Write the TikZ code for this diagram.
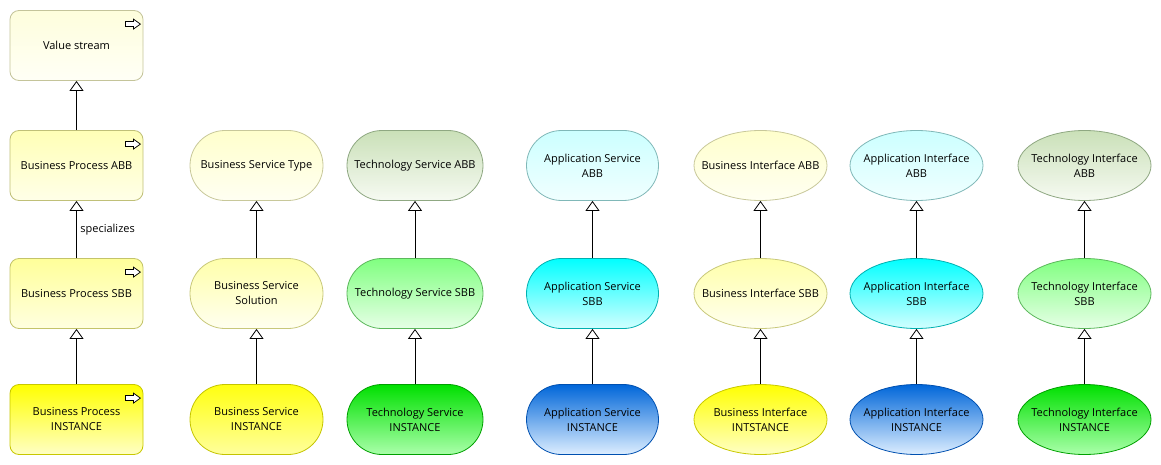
\documentclass[tikz,border=0pt]{standalone}
\usepackage{fontspec}
\setmainfont{Open Sans}
\usetikzlibrary{shapes.geometric,arrows.meta}
% colours
\definecolor{txtc}{HTML}{000000}
\definecolor{vsT}{HTML}{FEFEDC}\definecolor{vsB}{HTML}{FFFFF6}\definecolor{vsD}{HTML}{C4C49A}
\definecolor{y1T}{HTML}{FFFFB6}\definecolor{y1B}{HTML}{FFFFE8}\definecolor{y1D}{HTML}{C0C078}
\definecolor{y2T}{HTML}{FFFF99}\definecolor{y2B}{HTML}{FFFFE0}\definecolor{y2D}{HTML}{C4C46A}
\definecolor{y3T}{HTML}{FFFF00}\definecolor{y3B}{HTML}{FFFFC4}\definecolor{y3D}{HTML}{C8C800}
\definecolor{s1T}{HTML}{FFFFCC}\definecolor{s1B}{HTML}{FFFFF2}\definecolor{s1D}{HTML}{C8C89A}
\definecolor{s2T}{HTML}{FFFFAA}\definecolor{s2B}{HTML}{FFFFF0}\definecolor{s2D}{HTML}{C8C87A}
\definecolor{s3T}{HTML}{FFFF10}\definecolor{s3B}{HTML}{FFFF9C}\definecolor{s3D}{HTML}{C4C400}
\definecolor{g1T}{HTML}{CAE0B8}\definecolor{g1B}{HTML}{F6FAF2}\definecolor{g1D}{HTML}{8FA882}
\definecolor{g2T}{HTML}{80FF80}\definecolor{g2B}{HTML}{E6FFE6}\definecolor{g2D}{HTML}{5CB85C}
\definecolor{g3T}{HTML}{00E000}\definecolor{g3B}{HTML}{AAFFAA}\definecolor{g3D}{HTML}{00A000}
\definecolor{c1T}{HTML}{CCFFFF}\definecolor{c1B}{HTML}{F0FFFF}\definecolor{c1D}{HTML}{80B8B8}
\definecolor{c2T}{HTML}{00FFFF}\definecolor{c2B}{HTML}{D2FFFF}\definecolor{c2D}{HTML}{00B0B0}
\definecolor{c3T}{HTML}{0066D9}\definecolor{c3B}{HTML}{DDEEFF}\definecolor{c3D}{HTML}{0050B0}
\begin{document}
\begin{tikzpicture}[x=1pt,y=-1pt,
  every node/.style={font=\fontsize{11}{15}\selectfont, text=txtc},
  base/.style={draw, line width=0.8pt, minimum height=70pt, align=center, inner sep=0pt},
  proc/.style={base, rounded corners=9pt, minimum width=133pt},
  svc/.style={base, rounded corners=35pt, minimum width=133pt},
  ifc/.style={base, ellipse, minimum width=133pt},
  col/.style={top color=#1T, bottom color=#1B, draw=#1D},
  gen/.style={line width=0.8pt, -{Triangle[open, width=14pt, length=10pt, fill=white]}},
  icon/.style={line width=0.75pt, draw=black, fill=white, line join=miter},
  lbl/.style={align=center, inner sep=0pt}
]
\useasboundingbox (0,0) rectangle (1161,465);
\fill[white] (0,0) rectangle (1161,465);

% column 1: processes
\node[proc, col=vs] (vs) at (76.5,45.5) {Value stream};
\node[proc, col=y1] (bpabb) at (76.5,165.5) {Business Process ABB};
\node[proc, col=y2] (bpsbb) at (76.5,293.5) {Business Process SBB};
\node[proc, col=y3] (bpi) at (76.5,419.5) {Business Process\\INSTANCE};

% column 2: business services
\node[svc, col=s1] (bst) at (256.5,165.5) {Business Service Type};
\node[svc, col=s2] (bss) at (256.5,293.5) {Business Service\\Solution};
\node[svc, col=s3] (bsi) at (256.5,419.5) {Business Service\\INSTANCE};

% column 3: technology services
\node[svc, col=g1, minimum width=136pt] (tsa) at (415,165.5) {Technology Service ABB};
\node[svc, col=g2, minimum width=136pt] (tss) at (415,293.5) {Technology Service SBB};
\node[svc, col=g3, minimum width=136pt] (tsi) at (415,419.5) {Technology Service\\INSTANCE};

% column 4: application services
\node[svc, col=c1, minimum width=132pt] (asa) at (592.5,165.5) {Application Service\\ABB};
\node[svc, col=c2, minimum width=132pt] (ass) at (592.5,293.5) {Application Service\\SBB};
\node[svc, col=c3, minimum width=132pt] (asi) at (592.5,419.5) {Application Service\\INSTANCE};

% column 5: business interfaces
\node[ifc, col=s1, label={[lbl]center:Business Interface ABB}] (bia) at (760.5,165.5) {};
\node[ifc, col=s2, label={[lbl]center:Business Interface SBB}] (bis) at (760.5,293.5) {};
\node[ifc, col=y3, label={[lbl]center:Business Interface\\INTSTANCE}] (bii) at (760.5,419.5) {};

% column 6: application interfaces
\node[ifc, col=c1, label={[lbl]center:Application Interface\\ABB}] (aia) at (916.5,165.5) {};
\node[ifc, col=c2, label={[lbl]center:Application Interface\\SBB}] (ais) at (916.5,293.5) {};
\node[ifc, col=c3, label={[lbl]center:Application Interface\\INSTANCE}] (aii) at (916.5,419.5) {};

% column 7: technology interfaces
\node[ifc, col=g1, label={[lbl]center:Technology Interface\\ABB}] (tia) at (1084.5,165.5) {};
\node[ifc, col=g2, label={[lbl]center:Technology Interface\\SBB}] (tis) at (1084.5,293.5) {};
\node[ifc, col=g3, label={[lbl]center:Technology Interface\\INSTANCE}] (tii) at (1084.5,419.5) {};

% process icons
\foreach \n in {vs,bpabb,bpsbb,bpi}{
  \draw[icon] ([shift={(-18,11.5)}]\n.north east) -- ++(8,0) -- ++(0,-2.5) -- ++(7,5)
     -- ++(-7,5) -- ++(0,-2.5) -- ++(-8,0) -- cycle;
}

% generalisation connectors
\draw[gen] (bpabb.north) -- (vs.south);
\draw[gen] (bpsbb.north) -- node[pos=0.5, right=3.5pt, inner sep=0pt, anchor=west] (spec) {specializes} (bpabb.south);
\draw[gen] (bpi.north) -- (bpsbb.south);
\draw[gen] (bss.north) -- (bst.south);
\draw[gen] (bsi.north) -- (bss.south);
\draw[gen] (tss.north) -- (tsa.south);
\draw[gen] (tsi.north) -- (tss.south);
\draw[gen] (ass.north) -- (asa.south);
\draw[gen] (asi.north) -- (ass.south);
\draw[gen] (bis.north) -- (bia.south);
\draw[gen] (bii.north) -- (bis.south);
\draw[gen] (ais.north) -- (aia.south);
\draw[gen] (aii.north) -- (ais.south);
\draw[gen] (tis.north) -- (tia.south);
\draw[gen] (tii.north) -- (tis.south);
\end{tikzpicture}
\end{document}
